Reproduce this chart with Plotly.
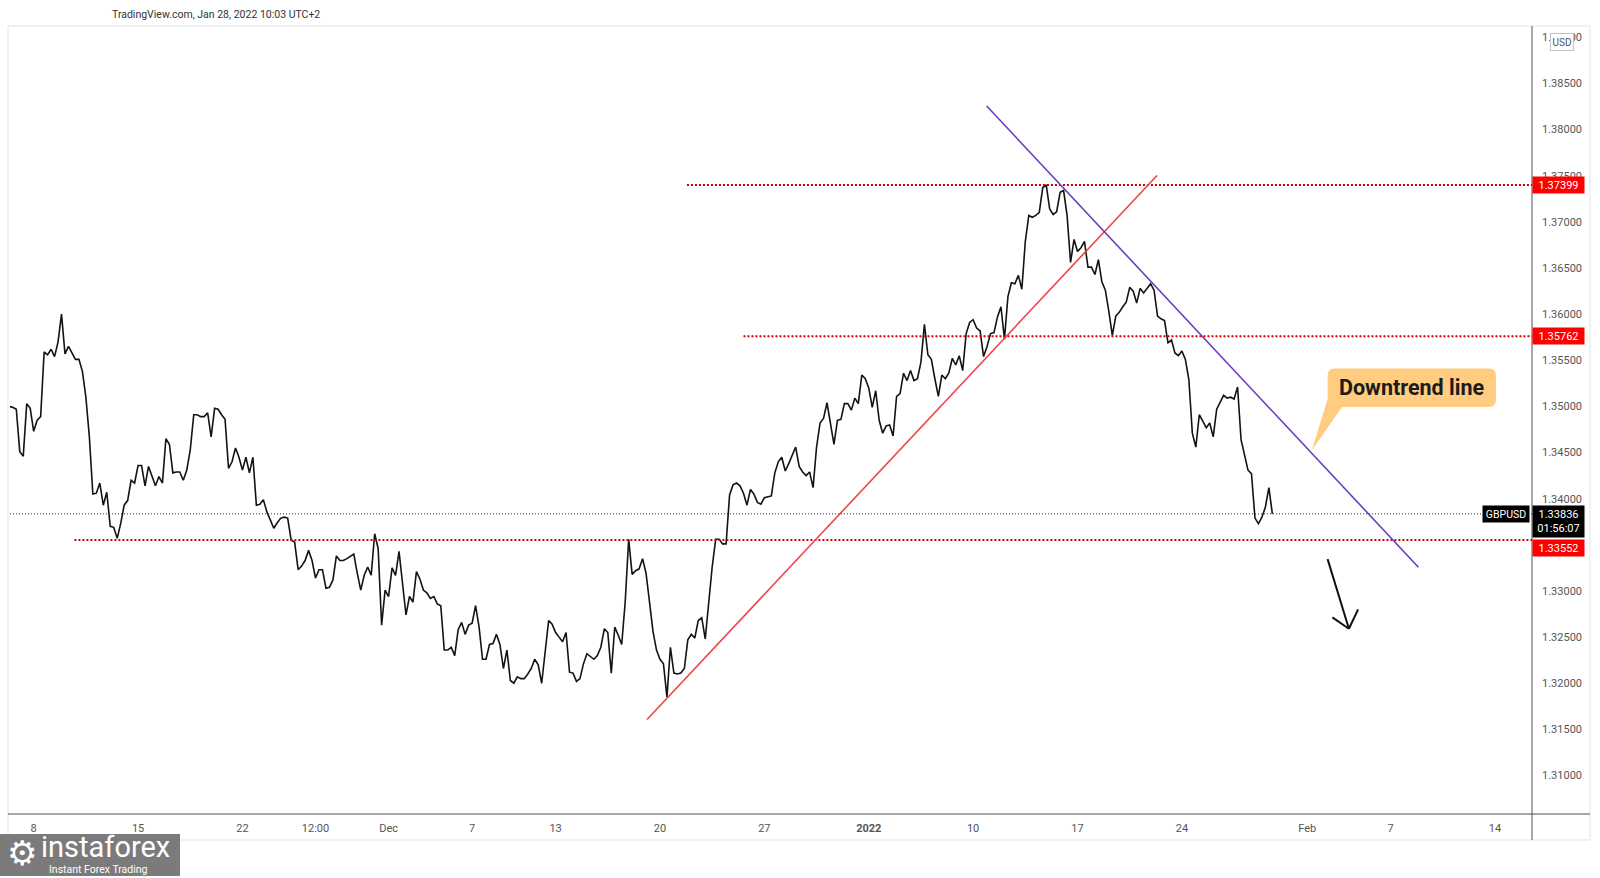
import pandas as pd
import plotly.graph_objects as go

# ---------------- data (GBPUSD, 4h closes) ----------------
bar_start = "2021-11-04 20:00"
bar_end = "2022-01-28 08:00"

close_nov = [
    1.3500, 1.3499, 1.3497, 1.3451, 1.3446, 1.3503, 1.3498, 1.3473, 1.3485, 1.3489, 1.3559, 1.3556,
    1.3562, 1.3554, 1.3570, 1.3600, 1.3557, 1.3565, 1.3558, 1.3551, 1.3551, 1.3538, 1.3510, 1.3467,
    1.3405, 1.3406, 1.3417, 1.3393, 1.3407, 1.3370, 1.3369, 1.3357, 1.3373, 1.3393, 1.3398, 1.3420,
    1.3417, 1.3436, 1.3436, 1.3414, 1.3435, 1.3424, 1.3414, 1.3424, 1.3417, 1.3465, 1.3459, 1.3428,
    1.3429, 1.3429, 1.3420, 1.3431, 1.3453, 1.3491, 1.3491, 1.3489, 1.3489, 1.3493, 1.3467, 1.3498,
    1.3497, 1.3491, 1.3486, 1.3433, 1.3440, 1.3455, 1.3445, 1.3431, 1.3445, 1.3428, 1.3445, 1.3393,
    1.3394, 1.3399, 1.3386, 1.3377, 1.3368, 1.3374, 1.3379, 1.3380, 1.3379, 1.3355, 1.3353, 1.3323,
    1.3327, 1.3333, 1.3344, 1.3333, 1.3314, 1.3323, 1.3323, 1.3303, 1.3304, 1.3312, 1.3338, 1.3333,
    1.3333, 1.3335, 1.3338, 1.3340, 1.3319, 1.3301, 1.3317, 1.3326, 1.3317, 1.3362, 1.3346, 1.3263,
    1.3301,
]
close_dec = [
    1.3294, 1.3325, 1.3317,
    1.3343, 1.3310, 1.3274, 1.3294, 1.3288, 1.3321, 1.3313, 1.3301,
    1.3298, 1.3292, 1.3294, 1.3286, 1.3284, 1.3236, 1.3236, 1.3239, 1.3230, 1.3258, 1.3266, 1.3253,
    1.3263, 1.3265, 1.3284, 1.3261, 1.3226, 1.3226, 1.3242, 1.3243, 1.3253, 1.3242, 1.3216, 1.3236,
    1.3203, 1.3200, 1.3207, 1.3205, 1.3205, 1.3210, 1.3216, 1.3226, 1.3220, 1.3200, 1.3234, 1.3268,
    1.3264, 1.3255, 1.3250, 1.3245, 1.3255, 1.3212, 1.3211, 1.3202, 1.3205, 1.3221, 1.3232, 1.3229,
    1.3226, 1.3230, 1.3239, 1.3259, 1.3255, 1.3211, 1.3261, 1.3252, 1.3242, 1.3288, 1.3356, 1.3318,
    1.3322, 1.3324, 1.3335, 1.3319, 1.3288, 1.3256, 1.3236, 1.3226, 1.3221, 1.3185, 1.3239, 1.3211,
    1.3210, 1.3211, 1.3216, 1.3247, 1.3253, 1.3249, 1.3268, 1.3271, 1.3248, 1.3290, 1.3326, 1.3356,
    1.3356, 1.3351, 1.3351, 1.3404, 1.3415, 1.3417, 1.3414, 1.3406, 1.3393, 1.3410, 1.3405, 1.3396,
    1.3394, 1.3401, 1.3402, 1.3403, 1.3428, 1.3440, 1.3445, 1.3430, 1.3438, 1.3448, 1.3456, 1.3435,
    1.3429, 1.3425, 1.3429, 1.3412, 1.3456, 1.3482, 1.3487, 1.3504, 1.3482, 1.3459, 1.3485, 1.3486,
    1.3503, 1.3503, 1.3496, 1.3509, 1.3503, 1.3534, 1.3530,
]
close_jan = [
    1.3520, 1.3499, 1.3517, 1.3485, 1.3471,
    1.3479, 1.3480, 1.3468, 1.3511, 1.3514, 1.3536, 1.3528, 1.3539, 1.3528, 1.3530, 1.3548, 1.3589,
    1.3556, 1.3551, 1.3530, 1.3511, 1.3534, 1.3530, 1.3536, 1.3552, 1.3545, 1.3555, 1.3539, 1.3579,
    1.3591, 1.3594, 1.3585, 1.3582, 1.3554, 1.3565, 1.3579, 1.3580, 1.3597, 1.3608, 1.3573, 1.3619,
    1.3634, 1.3633, 1.3642, 1.3627, 1.3679, 1.3707, 1.3705, 1.3707, 1.3710, 1.3737, 1.3740, 1.3714,
    1.3708, 1.3711, 1.3732, 1.3734, 1.3707, 1.3656, 1.3681, 1.3668, 1.3672, 1.3679, 1.3651, 1.3651,
    1.3643, 1.3659, 1.3635, 1.3626, 1.3603, 1.3577, 1.3598, 1.3602, 1.3608, 1.3613, 1.3629, 1.3625,
    1.3612, 1.3628, 1.3623, 1.3628, 1.3633, 1.3626, 1.3598, 1.3595, 1.3593, 1.3569, 1.3572, 1.3558,
    1.3555, 1.3560, 1.3551, 1.3529, 1.3471, 1.3456, 1.3491, 1.3484, 1.3477, 1.3482, 1.3467, 1.3497,
    1.3504, 1.3512, 1.3509, 1.3510, 1.3508, 1.3521, 1.3464, 1.3449, 1.3431, 1.3427, 1.3379, 1.3373,
    1.3380, 1.3391, 1.3412, 1.33836,
]

level_prices = [1.37399, 1.35762, 1.33552]
level_starts = ["2021-12-21 07:00", "2021-12-24 00:00", "2021-11-09 22:50"]
level_label_shift = [0, 0, -8]

last_price = 1.33836
countdown = "01:56:07"
symbol = "GBPUSD"

uptrend_x = ["2021-12-17 09:07", "2022-01-20 19:26"]
uptrend_y = [1.31607, 1.37503]
downtrend_x = ["2022-01-10 15:36", "2022-02-08 07:55"]
downtrend_y = [1.38256, 1.33257]

arrow_tail = ("2022-02-01 23:30", 1.33345)
arrow_tip = ("2022-02-03 00:00", 1.32591)
arrow_wings = [("2022-02-02 05:00", 1.32714), ("2022-02-03 10:34", 1.32801)]

x_range = ["2021-11-04 20:46", "2022-02-15 18:29"]
y_range = [1.30583, 1.39123]

x_tickvals = ["2021-11-08", "2021-11-15", "2021-11-22", "2021-11-25 12:00", "2021-12-01",
              "2021-12-07", "2021-12-13", "2021-12-20", "2021-12-27", "2022-01-03",
              "2022-01-10", "2022-01-17", "2022-01-24", "2022-02-01", "2022-02-07", "2022-02-14"]
x_ticktext = ["8", "15", "22", "12:00", "Dec", "7", "13", "20", "27", "<b>2022</b>",
              "10", "17", "24", "Feb", "7", "14"]
y_tickvals = [1.310, 1.315, 1.320, 1.325, 1.330, 1.335, 1.340, 1.345, 1.350,
              1.355, 1.360, 1.365, 1.370, 1.375, 1.380, 1.385, 1.390]
y_ticktext = ["1.31000", "1.31500", "1.32000", "1.32500", "1.33000", "1.33500", "1.34000",
              "1.34500", "1.35000", "1.35500", "1.36000", "1.36500", "1.37000", "1.37500",
              "1.38000", "1.38500", "1.39000"]

header_text = "TradingView.com, Jan 28, 2022 10:03 UTC+2"
callout_text = "Downtrend line"

# ---------------- build ----------------
times = pd.date_range(bar_start, bar_end, freq="4h")
times = times[times.dayofweek < 5]
closes = close_nov + close_dec + close_jan
assert len(times) == len(closes), (len(times), len(closes))

W, H = 1600, 878
ML, MR, MT, MB = 10, 68, 26, 64
PW, PH = W - ML - MR, H - MT - MB


def px_x(p):
    return (p - ML) / PW


def px_y(p):
    return (H - MB - p) / PH


FONT = "Roboto, 'Liberation Sans', sans-serif"

fig = go.Figure()
fig.add_trace(go.Scatter(x=times, y=closes, mode="lines",
                         line=dict(color="#131313", width=1.6),
                         hoverinfo="skip", showlegend=False))

shapes = []
# outer frame
shapes.append(dict(type="rect", xref="paper", yref="paper",
                   x0=px_x(8), x1=px_x(1590), y0=px_y(840), y1=1,
                   line=dict(color="#e0e3eb", width=1), layer="below"))
# axis lines
shapes.append(dict(type="line", xref="paper", yref="paper",
                   x0=px_x(8), x1=px_x(1590), y0=0, y1=0,
                   line=dict(color="#505050", width=1)))
shapes.append(dict(type="line", xref="paper", yref="paper",
                   x0=1, x1=1, y0=px_y(840), y1=1,
                   line=dict(color="#505050", width=1)))
# last price dotted line
shapes.append(dict(type="line", xref="paper", yref="y", x0=0, x1=1,
                   y0=last_price, y1=last_price,
                   line=dict(color="#333333", width=1, dash="1px,2px")))
# horizontal levels
for p, s in zip(level_prices, level_starts):
    shapes.append(dict(type="line", xref="x", yref="y", x0=s, x1=x_range[1],
                       y0=p, y1=p, line=dict(color="#d10000", width=2, dash="2px,2px")))
# trend lines
shapes.append(dict(type="line", xref="x", yref="y",
                   x0=uptrend_x[0], x1=uptrend_x[1], y0=uptrend_y[0], y1=uptrend_y[1],
                   line=dict(color="#f0424a", width=1.6)))
shapes.append(dict(type="line", xref="x", yref="y",
                   x0=downtrend_x[0], x1=downtrend_x[1], y0=downtrend_y[0], y1=downtrend_y[1],
                   line=dict(color="#6a3fc0", width=1.6)))
# arrow
shapes.append(dict(type="line", xref="x", yref="y",
                   x0=arrow_tail[0], y0=arrow_tail[1], x1=arrow_tip[0], y1=arrow_tip[1],
                   line=dict(color="#111111", width=2)))
for wx, wy in arrow_wings:
    shapes.append(dict(type="line", xref="x", yref="y",
                       x0=wx, y0=wy, x1=arrow_tip[0], y1=arrow_tip[1],
                       line=dict(color="#111111", width=2)))

# callout bubble
L, R, T, B, r = 1327.6, 1496.0, 368.4, 407.0, 7.0
pts = [("M", (L + r, T)), ("L", (R - r, T)), ("Q", (R, T), (R, T + r)), ("L", (R, B - r)),
       ("Q", (R, B), (R - r, B)), ("L", (1342, B)), ("L", (1312, 450)), ("L", (L, B - 8)),
       ("L", (L, T + r)), ("Q", (L, T), (L + r, T))]
path = ""
for seg in pts:
    cmd = seg[0]
    coords = " ".join(f"{px_x(a):.5f},{px_y(b):.5f}" for a, b in seg[1:])
    path += f"{cmd} {coords} "
path += "Z"
shapes.append(dict(type="path", xref="paper", yref="paper", path=path,
                   fillcolor="#ffcc80", line=dict(width=0)))

# watermark box
shapes.append(dict(type="rect", xref="paper", yref="paper",
                   x0=px_x(0), x1=px_x(180), y0=px_y(876), y1=px_y(834),
                   fillcolor="#7b7b7b", line=dict(width=0)))

ann = []
ann.append(dict(xref="paper", yref="paper", x=px_x(110), y=px_y(14), xanchor="left",
                yanchor="middle", text=header_text, showarrow=False,
                font=dict(family=FONT, size=10.5, color="#333333")))
for p, sh in zip(level_prices, level_label_shift):
    ann.append(dict(xref="paper", yref="y", x=1, y=p, xanchor="left", yanchor="middle",
                    yshift=sh, text=f"{p:.5f}", showarrow=False, bgcolor="#ff0000",
                    width=51, height=16, borderpad=0, align="center", valign="middle",
                    font=dict(family=FONT, size=11, color="white")))
ann.append(dict(xref="paper", yref="y", x=1, y=last_price, xanchor="left", yanchor="middle",
                yshift=-8, text=f"{last_price:.5f}<br>{countdown}", showarrow=False,
                bgcolor="#000000", width=51, height=31, borderpad=0, align="center",
                valign="middle", font=dict(family=FONT, size=11, color="white")))
ann.append(dict(xref="paper", yref="y", x=1, xshift=-2, y=last_price, xanchor="right",
                yanchor="middle", text=symbol, showarrow=False, bgcolor="#000000",
                width=46, height=16, borderpad=0, align="center", valign="middle",
                font=dict(family=FONT, size=10.5, color="white")))
ann.append(dict(xref="paper", yref="paper", x=px_x(1562), y=px_y(42), xanchor="center",
                yanchor="middle", text="USD", showarrow=False, bgcolor="white",
                bordercolor="#c0c3ca", borderwidth=1, borderpad=1, width=20, height=14,
                font=dict(family=FONT, size=10, color="#555555")))
ann.append(dict(xref="paper", yref="paper", x=px_x((L + R) / 2), y=px_y((T + B) / 2),
                xanchor="center", yanchor="middle", text=f"<b>{callout_text}</b>",
                showarrow=False, font=dict(family=FONT, size=21.5, color="#1b1b1b")))
# watermark texts
ann.append(dict(xref="paper", yref="paper", x=px_x(22), y=px_y(853), xanchor="center",
                yanchor="middle", text="⚙", showarrow=False,
                font=dict(family="DejaVu Sans", size=34, color="white")))
ann.append(dict(xref="paper", yref="paper", x=px_x(39), y=px_y(847), xanchor="left",
                yanchor="middle", text="instaforex", showarrow=False,
                font=dict(family=FONT, size=29, color="white")))
ann.append(dict(xref="paper", yref="paper", x=px_x(47), y=px_y(869), xanchor="left",
                yanchor="middle", text="Instant Forex Trading", showarrow=False,
                font=dict(family=FONT, size=10.5, color="white")))

fig.update_layout(
    width=W, height=H, autosize=False,
    margin=dict(l=ML, r=MR, t=MT, b=MB, pad=0),
    paper_bgcolor="white", plot_bgcolor="white",
    showlegend=False, font=dict(family=FONT),
    shapes=shapes, annotations=ann,
    xaxis=dict(type="date", range=x_range,
               rangebreaks=[dict(bounds=["sat", "mon"])],
               tickmode="array", tickvals=x_tickvals, ticktext=x_ticktext,
               showgrid=False, zeroline=False, showline=False, ticks="",
               ticklabelstandoff=6, automargin=False,
               tickfont=dict(family=FONT, size=11, color="#555555")),
    yaxis=dict(range=y_range, side="right", tickmode="array",
               tickvals=y_tickvals, ticktext=y_ticktext,
               showgrid=False, zeroline=False, showline=False, ticks="",
               ticklabelstandoff=9, automargin=False,
               tickfont=dict(family=FONT, size=11, color="#555555")),
)

fig.write_html("out.html")
